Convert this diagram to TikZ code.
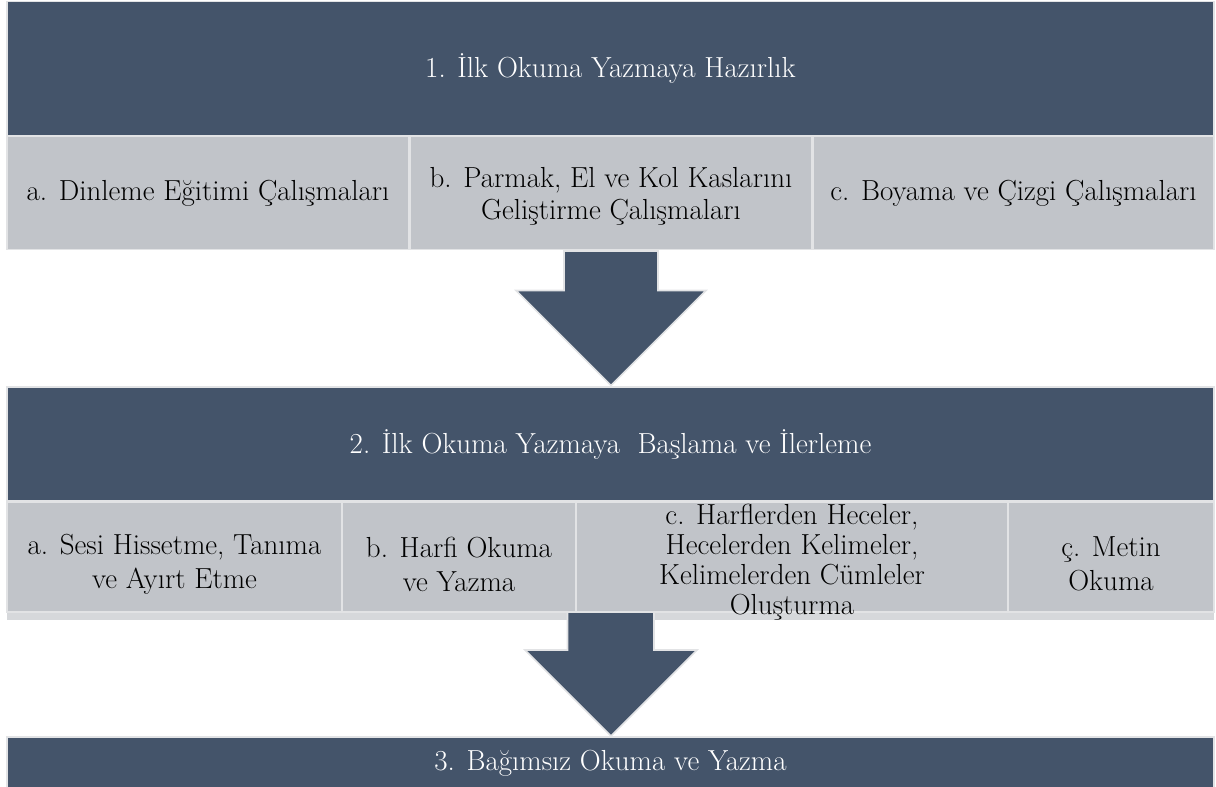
\documentclass[tikz,border=0pt]{standalone}
\usepackage{fontspec}
\definecolor{darkbox}{HTML}{44546A}
\definecolor{lightcell}{HTML}{C1C4C9}
\definecolor{edgecol}{HTML}{E2E3E5}
\definecolor{stripcol}{HTML}{D6D8DB}
\tikzset{
  base/.style={rectangle, inner sep=0pt, outer sep=0pt, draw=edgecol, line width=1.6pt, align=center,
    font=\fontsize{29}{32}\selectfont},
  darkrow/.style={base, fill=darkbox, text=white},
  cell/.style={base, fill=lightcell, text=black},
  celltext/.style={base, draw=none, text=black},
  arrowshape/.style={fill=darkbox, draw=edgecol, line width=1.6pt, line join=miter},
}
\begin{document}
\begin{tikzpicture}[x=1pt,y=-1pt]
\useasboundingbox (0,0) rectangle (1216,787);
% level 1
\node[darkrow, minimum width=1207pt, minimum height=134pt] (t1) at (610.5,68.5) {1. İlk Okuma Yazmaya Hazırlık};
\node[cell, minimum width=402pt, minimum height=113pt] (r1a) at (208,193) {a. Dinleme Eğitimi Çalışmaları};
\node[cell, minimum width=402pt, minimum height=113pt] (r1b) at (611,193) {};
\node[celltext] (r1bt) at ([yshift=-3pt]r1b.center) {b. Parmak, El ve Kol Kaslarını\\Geliştirme Çalışmaları};
\node[cell, minimum width=401pt, minimum height=113pt] (r1c) at (1013.5,193) {c. Boyama ve Çizgi Çalışmaları};
% arrow 1
\draw[arrowshape] (564,251) -- (658,251) -- (658,290.5) -- (706,290.5) -- (611,385.5) -- (516,290.5) -- (564,290.5) -- cycle;
% level 2
\node[darkrow, minimum width=1207pt, minimum height=114pt] (t2) at (610.5,444) {2. İlk Okuma Yazmaya\ \ Başlama ve İlerleme};
\fill[stripcol] (7,611) rectangle (1214,620);
\node[cell, minimum width=335pt, minimum height=110pt] (r2a) at (174.5,557) {};
\node[cell, minimum width=234pt, minimum height=110pt] (r2b) at (459,557) {};
\node[cell, minimum width=432pt, minimum height=110pt] (r2c) at (792,557) {};
\node[cell, minimum width=206pt, minimum height=110pt] (r2d) at (1111,557) {};
\tikzset{twoline/.style={celltext, font=\fontsize{29}{34}\selectfont}}
\node[twoline] (r2at) at ([yshift=-7pt]r2a.center) {a. Sesi Hissetme, Tanıma\\ve Ayırt Etme};
\node[twoline] (r2bt) at ([yshift=-7pt]r2b.center) {b. Harfi Okuma\\ve Yazma};
\node[twoline] (r2dt) at ([yshift=-7pt]r2d.center) {ç. Metin\\Okuma};
\node[celltext, font=\fontsize{29}{30}\selectfont] (r2ct) at ([yshift=-5pt]r2c.center) {c. Harflerden Heceler,\\Hecelerden Kelimeler,\\Kelimelerden Cümleler\\Oluşturma};
% arrow 2
\draw[arrowshape] (567.5,612) -- (654,612) -- (654,650) -- (697,650) -- (611,736) -- (525,650) -- (567.5,650) -- cycle;
% level 3
\node[darkrow, minimum width=1207pt, minimum height=52pt] (t3) at (610.5,763) {3. Bağımsız Okuma ve Yazma};
\end{tikzpicture}
\end{document}
